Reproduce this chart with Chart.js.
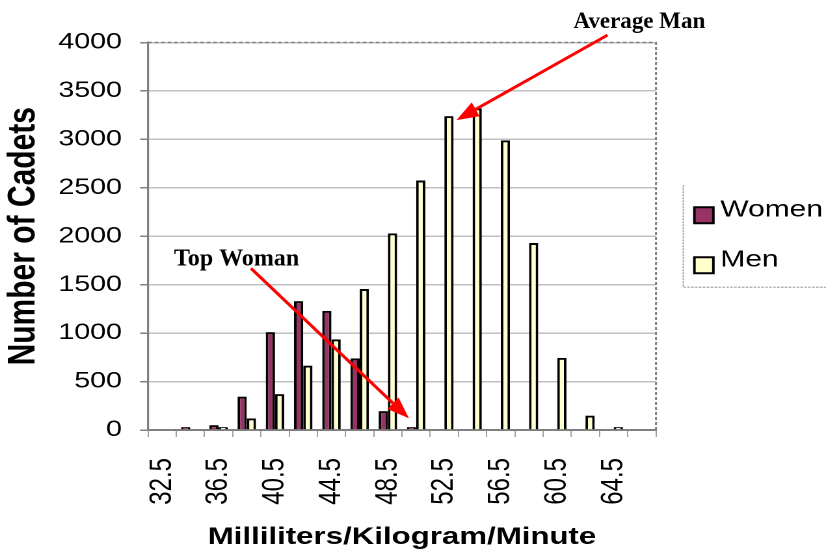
<!DOCTYPE html>
<html><head><meta charset="utf-8">
<script src="https://cdn.jsdelivr.net/npm/chart.js@4"></script>
<style>
html,body{margin:0;padding:0;background:#fff;overflow:hidden}
#wrap{width:826px;height:556px;overflow:hidden;position:relative;background:#fff}
#c{position:absolute;left:0;top:0;transform-origin:0 0}
</style></head><body>
<div id="wrap"><canvas id="c"></canvas></div>
<script>
// ---- data ----
const categories = ['32.5','34.5','36.5','38.5','40.5','42.5','44.5','46.5','48.5','50.5','52.5','54.5','56.5','58.5','60.5','62.5','64.5','66.5'];
const women = [0, 30, 50, 345, 1010, 1330, 1230, 740, 195, 30, 0, 0, 0, 0, 0, 0, 0, 0];
const men   = [0, 0, 30, 120, 370, 665, 935, 1455, 2030, 2575, 3240, 3320, 2990, 1930, 745, 148, 30, 0];
const seriesNames = ['Women', 'Men'];
const yTickValues = [0, 500, 1000, 1500, 2000, 2500, 3000, 3500, 4000];
const xTitle = 'Milliliters/Kilogram/Minute';
const yTitle = 'Number of Cadets';
const notes = [
  {text: 'Average Man', dataset: 1, index: 10, tip: [7.5, 4], tail: [151, -85], label: [117, -92], size: 23},
  {text: 'Top Woman', dataset: 0, index: 9, tip: [-2.5, -8.7], tail: [-158, -150], label: [-235, -153], size: 24}
];

// ---- canvas (the source picture is horizontally stretched) ----
const W = 826, H = 556, STRETCH = 1.3;
const IW = Math.round(W / STRETCH);
const SX = W / IW;
const canvas = document.getElementById('c');
canvas.width = IW; canvas.height = H;
canvas.style.width = IW + 'px'; canvas.style.height = H + 'px';
canvas.style.transform = 'scaleX(' + SX + ')';

const SANS = "'Liberation Sans', Arial, sans-serif";
const SERIF = "'Liberation Serif', 'Times New Roman', serif";

const framePlugin = {
  id: 'frame',
  beforeDatasetsDraw(chart) {
    const {ctx, chartArea: a} = chart;
    ctx.save();
    ctx.strokeStyle = '#808080';
    ctx.lineWidth = 1.5;
    ctx.setLineDash([3, 2]);
    ctx.beginPath();
    ctx.moveTo(a.left, a.top); ctx.lineTo(a.right, a.top); ctx.lineTo(a.right, a.bottom);
    ctx.stroke();
    ctx.restore();
  }
};

const legendPlugin = {
  id: 'customLegend',
  afterDraw(chart) {
    const {ctx, chartArea: a} = chart;
    const cy = (a.top + a.bottom) / 2;
    const lx = a.right + 21;
    ctx.save();
    ctx.strokeStyle = '#A8A8A8';
    ctx.lineWidth = 1.2;
    ctx.setLineDash([2, 1]);
    ctx.beginPath();
    ctx.moveTo(lx, cy - 51); ctx.lineTo(lx, cy + 51); ctx.lineTo(IW, cy + 51);
    ctx.stroke();
    ctx.setLineDash([]);
    chart.data.datasets.forEach((ds, i) => {
      const my = cy - 21 + i * 50;
      ctx.fillStyle = ds.backgroundColor;
      ctx.fillRect(lx + 8.5, my - 8, 14.6, 16);
      ctx.strokeStyle = '#000';
      ctx.lineWidth = 2;
      ctx.strokeRect(lx + 8.5, my - 8, 14.6, 16);
      ctx.fillStyle = '#000';
      ctx.font = '23px ' + SANS;
      ctx.textBaseline = 'alphabetic';
      ctx.textAlign = 'left';
      ctx.fillText(ds.label, lx + 28.5, my + 1);
    });
    ctx.restore();
  }
};

const notePlugin = {
  id: 'notes',
  afterDraw(chart) {
    const ctx = chart.ctx;
    ctx.save();
    ctx.scale(1 / SX, 1);
    notes.forEach(n => {
      const el = chart.getDatasetMeta(n.dataset).data[n.index];
      const tx = el.x * SX + n.tip[0], ty = el.y + n.tip[1];
      const sx = tx + n.tail[0], sy = ty + n.tail[1];
      const ang = Math.atan2(ty - sy, tx - sx);
      const hl = 22, hw = 8;
      const bx = tx - hl * Math.cos(ang), by = ty - hl * Math.sin(ang);
      ctx.strokeStyle = '#FF0000';
      ctx.fillStyle = '#FF0000';
      ctx.lineWidth = 3;
      ctx.beginPath(); ctx.moveTo(sx, sy); ctx.lineTo(bx, by); ctx.stroke();
      ctx.beginPath();
      ctx.moveTo(tx, ty);
      ctx.lineTo(bx + hw * Math.sin(ang), by - hw * Math.cos(ang));
      ctx.lineTo(bx - hw * Math.sin(ang), by + hw * Math.cos(ang));
      ctx.closePath(); ctx.fill();
      ctx.fillStyle = '#000';
      ctx.font = 'bold ' + n.size + 'px ' + SERIF;
      ctx.textAlign = 'left';
      ctx.textBaseline = 'alphabetic';
      ctx.fillText(n.text, tx + n.label[0], ty + n.label[1]);
    });
    ctx.restore();
  }
};

new Chart(canvas, {
  type: 'bar',
  data: {
    labels: categories,
    datasets: [
      {label: seriesNames[0], data: women, backgroundColor: '#993366', borderColor: '#000', borderWidth: 2},
      {label: seriesNames[1], data: men, backgroundColor: '#FFFFCC', borderColor: '#000', borderWidth: 2}
    ]
  },
  options: {
    responsive: false,
    animation: false,
    devicePixelRatio: 2,
    layout: {padding: {left: 0, top: 42.5, right: IW - 656 / SX, bottom: 0}},
    datasets: {bar: {categoryPercentage: 0.656, barPercentage: 1.0}},
    plugins: {legend: {display: false}, tooltip: {enabled: false}},
    scales: {
      x: {
        grid: {offset: true, drawOnChartArea: false, drawTicks: true, tickLength: 7, tickColor: '#A0A0A0', tickWidth: 1},
        border: {color: '#808080', width: 2},
        ticks: {
          autoSkip: false, maxRotation: 90, minRotation: 90, padding: 21, color: '#000',
          font: {family: SANS, size: 24},
          callback: (v, i) => (i % 2 === 0 ? categories[i] : '')
        },
        title: {display: true, text: xTitle, color: '#000', font: {family: SANS, size: 24, weight: 'bold'}, padding: {top: 0, bottom: 4}},
        afterFit(s) { s.height = H - 430; }
      },
      y: {
        min: 0, max: 4000,
        afterBuildTicks(s) { s.ticks = yTickValues.map(v => ({value: v})); },
        ticks: {padding: 14, color: '#000', font: {family: SANS, size: 22}, callback: v => String(v)},
        grid: {color: '#C0C0C0', lineWidth: 1.5, tickLength: 6, tickColor: '#808080'},
        border: {color: '#808080', width: 1.6},
        title: {display: true, text: yTitle, color: '#000', font: {family: SANS, size: 30, weight: 'bold'}, padding: {top: 0, bottom: 0}},
        afterFit(s) { s.width = 148 / SX; }
      }
    }
  },
  plugins: [framePlugin, legendPlugin, notePlugin]
});
</script>
</body></html>
